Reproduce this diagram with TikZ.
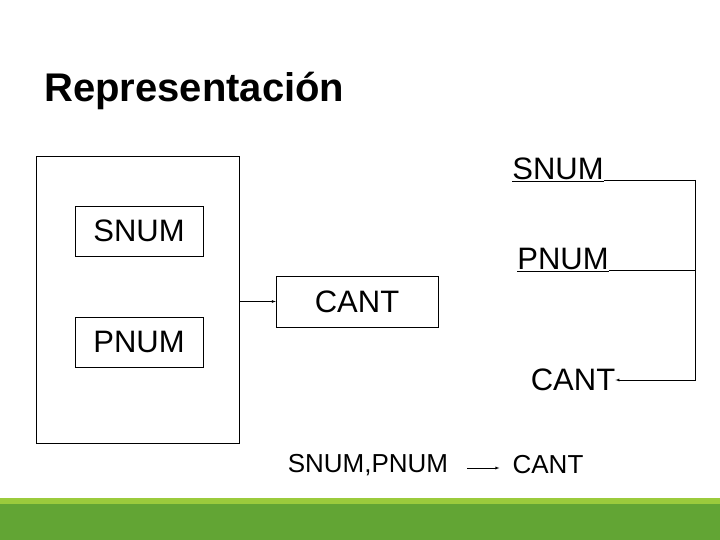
\documentclass[tikz,border=0pt]{standalone}
\usepackage{fontspec}
\setmainfont{Liberation Sans}
\usetikzlibrary{arrows,positioning,calc}
\definecolor{barlight}{HTML}{9BCB3C}
\definecolor{bardark}{HTML}{62A534}
\tikzstyle{block} = [draw, rectangle, inner sep=0pt, font=\fontsize{31}{36}\selectfont]
\tikzstyle{label} = [inner sep=0pt, font=\fontsize{31}{36}\selectfont]
\tikzstyle{connector} = [-latex, thin]

\begin{document}
\begin{tikzpicture}[x=1pt, y=-1pt]
	\useasboundingbox (0,0) rectangle (720,540);
	\fill[bardark] (0,498) rectangle (720,540);
	\fill[barlight] (0,498) rectangle (720,504);
	\node[anchor=west, inner sep=0pt, font=\bfseries\fontsize{40}{46}\selectfont] (title) at (44,91) {Representación};
	
	\node[draw, minimum width=203, minimum height=287, inner sep=0pt] (table) at (137.5,299.5) {};
	\node[block, minimum width=128, minimum height=50] (snum) at (139,231) {SNUM};
	\node[block, minimum width=128, minimum height=50] (pnum) at (139,342) {PNUM};
	\node[block, minimum width=162, minimum height=51] (cant) at (357,301.5) {CANT};
	
	\node[label] (key s) at (558,170) {\underline{SNUM}};
	\node[label] (key p) at (563,260) {\underline{PNUM}};
	\node[label] (res) at (573,380) {CANT};
	\coordinate (bus) at (695,180);
	
	\node[label, font=\fontsize{26}{30}\selectfont] (dep l) at (368,465) {SNUM,PNUM};
	\node[label, font=\fontsize{26}{30}\selectfont] (dep r) at (548,465) {CANT};
	
	\draw[connector] (table.east |- cant) to (cant.west);
	\draw (key s.east |- bus) -- (bus);
	\draw (key p.east |- 0,270) -- (695,270);
	\draw[connector] (bus) |- (res.east);
	\draw[connector] ($(dep l.east)+(19,3)$) -- ($(dep r.west)+(-13,3)$);
\end{tikzpicture}
\end{document}
